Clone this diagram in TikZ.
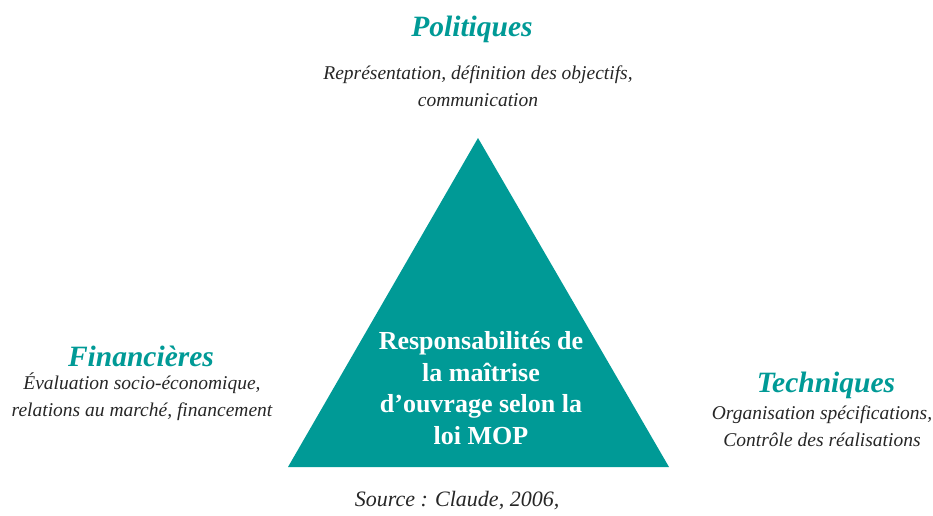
\documentclass[tikz,border=0pt]{standalone}
\usepackage{fontspec}
\setmainfont{Liberation Serif}
\definecolor{teal1}{HTML}{009A96}
\begin{document}
\begin{tikzpicture}[x=1pt,y=-1pt,
  title/.style={font=\fontsize{29.5}{32}\selectfont\bfseries\itshape, text=teal1, inner sep=0pt, anchor=center},
  desc/.style={font=\fontsize{19.5}{27}\selectfont\itshape, text=black!85, inner sep=0pt, align=center, anchor=center},
  tri/.style={fill=teal1, draw=none}]
\useasboundingbox (0,0) rectangle (933,515);
\coordinate (apex) at (478,138);
\coordinate (bl) at (288,467);
\coordinate (br) at (669,467);
\fill[tri] (apex) -- (bl) -- (br) -- cycle;
\node[font=\fontsize{26}{31.5}\selectfont\bfseries, text=white, align=center, inner sep=0pt] (center) at (481,388) {Responsabilités de\\la maîtrise\\d’ouvrage selon la\\loi MOP};
\node[title] (pol) at (472,29) {Politiques};
\node[desc] (poldesc) at (478,86) {Représentation, définition des objectifs,\\communication};
\node[title] (fin) at (141,356) {Financières};
\node[desc] (findesc) at (142,397) {Évaluation socio-économique,\\relations au marché, financement};
\node[title] (tech) at (826,385) {Techniques};
\node[desc] (techdesc) at (822,426) {Organisation spécifications,\\Contrôle des réalisations};
\node[font=\fontsize{22}{24}\selectfont\itshape, text=black!85, inner sep=0pt] (src) at (457,501) {Source : Claude, 2006,};
\end{tikzpicture}
\end{document}
